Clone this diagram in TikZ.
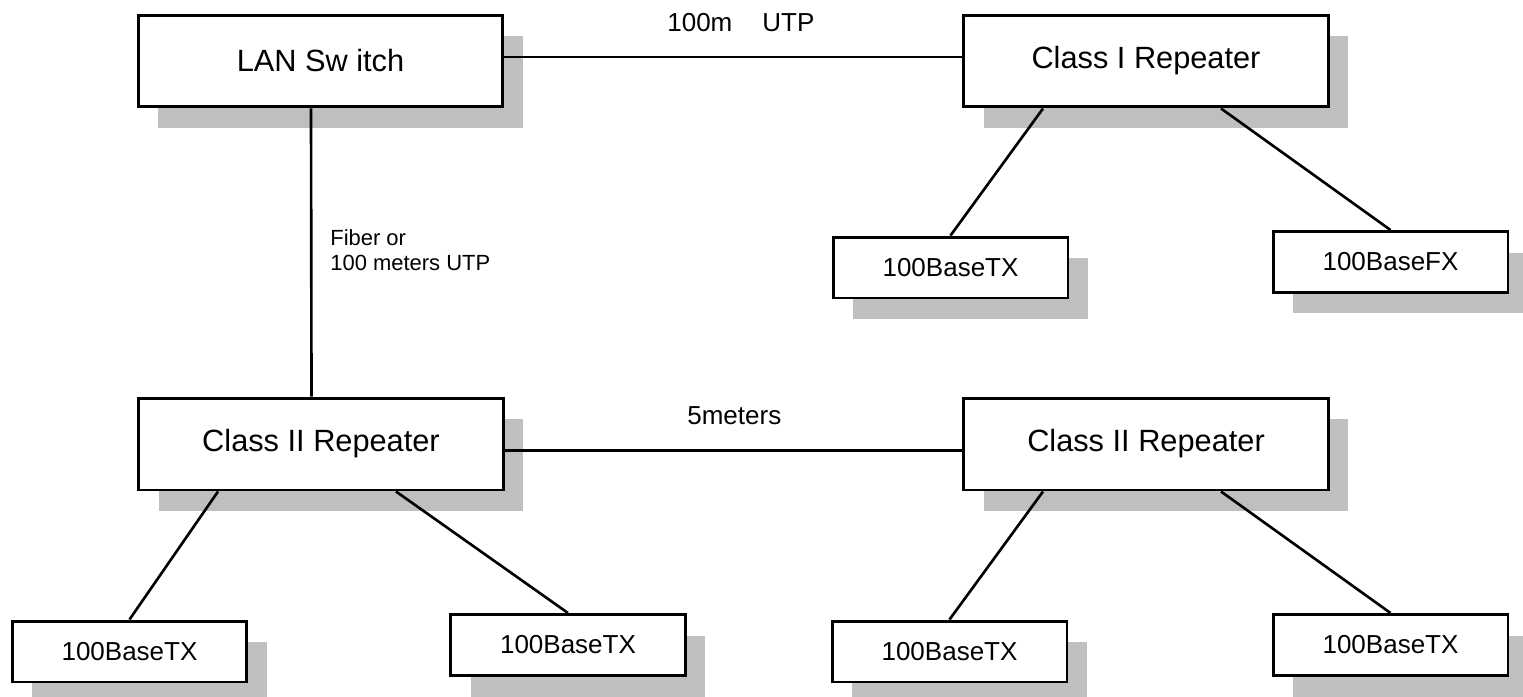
\documentclass[tikz,border=0pt]{standalone}
\usepackage{fontspec}
\setmainfont{Liberation Sans}
\usetikzlibrary{shadows}
\begin{document}
\begin{tikzpicture}[x=0.02cm,y=-0.02cm,
	box/.style={draw,line width=1.7pt,fill=white,inner sep=0pt,
		drop shadow={shadow xshift=0.4cm,shadow yshift=-0.42cm,fill=black!25,opacity=1}},
	bigbox/.style={box,minimum width=7.3cm,minimum height=1.84cm,font=\fontsize{17.5}{21}\selectfont},
	smallbox/.style={box,minimum width=4.7cm,minimum height=1.22cm,font=\fontsize{14.8}{17}\selectfont},
	link/.style={line width=1.5pt},
	lbl/.style={inner sep=0pt,font=\fontsize{14.8}{17}\selectfont}]
	\useasboundingbox (0,0) rectangle (1523,696);
	% repeaters and switch
	\node[bigbox] (lan) at (320.5,61) {LAN Sw itch};
	\node[bigbox] (rep1) at (1146,61) {Class I Repeater};
	\node[bigbox] (rep2a) at (321,444) {Class II Repeater};
	\node[bigbox] (rep2b) at (1146,444) {Class II Repeater};
	% segments
	\node[smallbox] (tx1) at (950.5,267.5) {100BaseTX};
	\node[smallbox] (fx1) at (1390.5,262) {100BaseFX};
	\node[smallbox] (tx2) at (129.5,651.5) {100BaseTX};
	\node[smallbox] (tx3) at (568,645) {100BaseTX};
	\node[smallbox] (tx4) at (949.5,651.5) {100BaseTX};
	\node[smallbox] (tx5) at (1390.5,645) {100BaseTX};
	% links
	\draw[link] ([yshift=0.08cm]lan.east) -- ([yshift=0.08cm]rep1.west);
	\draw[link] ([xshift=-0.19cm]lan.south) -- ([xshift=-0.19cm]rep2a.north);
	\draw[link] ([yshift=-0.13cm]rep2a.east) -- ([yshift=-0.13cm]rep2b.west);
	\draw[link] ([xshift=-2.06cm]rep1.south) -- (tx1.north);
	\draw[link] ([xshift=1.5cm]rep1.south) -- (fx1.north);
	\draw[link] ([xshift=-2.06cm]rep2a.south) -- (tx2.north);
	\draw[link] ([xshift=1.5cm]rep2a.south) -- (tx3.north);
	\draw[link] ([xshift=-2.06cm]rep2b.south) -- (tx4.north);
	\draw[link] ([xshift=1.5cm]rep2b.south) -- (tx5.north);
	% labels
	\node[lbl,anchor=base west] (utp) at (667,32) {100m\hspace{0.6cm}UTP};
	\node[lbl,anchor=base west] (five) at (687,424) {5meters};
	\node[lbl,anchor=west,align=left,font=\fontsize{12.5}{14.2}\selectfont] (fib) at (330,250) {Fiber or\\100 meters UTP};
\end{tikzpicture}
\end{document}
